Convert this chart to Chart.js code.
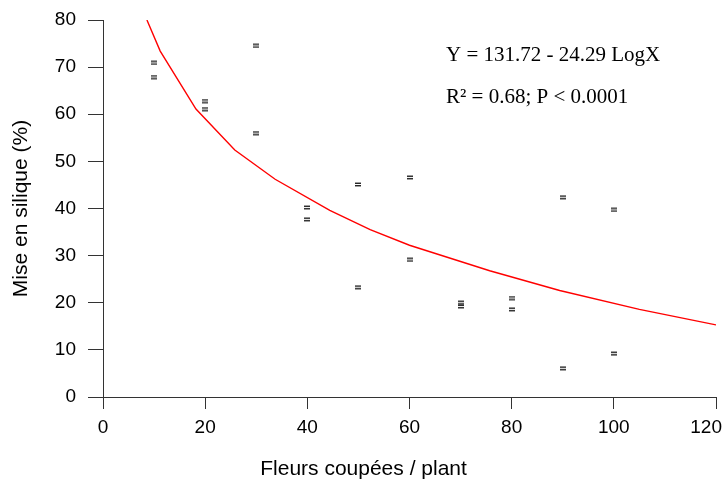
<!DOCTYPE html>
<html lang="fr">
<head>
<meta charset="utf-8">
<title>Mise en silique</title>
<script src="https://cdn.jsdelivr.net/npm/chart.js@4/dist/chart.umd.min.js"></script>
<style>
    html, body { margin: 0; padding: 0; background: #fff; }
    #wrap { width: 725px; height: 481px; }
</style>
</head>
<body>
<div id="wrap"><canvas id="silique-chart" width="725" height="481"></canvas></div>
<script>
// Observations : fleurs coupées par plant et mise en silique (%)
const fleursCoupees = [10, 10, 20, 20, 30, 30, 40, 40, 50, 50, 60, 60, 70, 70, 80, 80, 90, 90, 100, 100];
const miseEnSilique = [70.9, 67.9, 62.8, 61.1, 74.5, 56.0, 40.2, 37.7, 45.1, 23.3, 46.6, 29.1, 20.0, 19.2, 21.0, 18.6, 42.4, 6.1, 39.7, 9.2];

// Courbe ajustée (points relevés le long de la courbe)
const courbeX = [8.6, 11.2, 18.2, 25.8, 33.7, 44.4, 52.3, 60, 75.7, 89.4, 105, 120];
const courbeY = [80, 73.4, 61.1, 52.4, 46.2, 39.6, 35.5, 32.2, 26.8, 22.6, 18.6, 15.3];

const equation = 'Y = 131.72 - 24.29 LogX';
const statistiques = 'R\u00b2 = 0.68; P < 0.0001';

document.addEventListener('DOMContentLoaded', function() {
    // Petit symbole "=" pour chaque observation
    const marker = document.createElement('canvas');
    marker.width = 6;
    marker.height = 5;
    const m = marker.getContext('2d');
    m.fillStyle = '#111';
    m.fillRect(0, 0.6, 6, 1.3);
    m.fillRect(0, 3.1, 6, 1.3);

    const points = fleursCoupees.map((x, i) => ({ x: x, y: miseEnSilique[i] }));
    const courbe = courbeX.map((x, i) => ({ x: x, y: courbeY[i] }));

    const sansFont = '"Liberation Sans", Arial, sans-serif';

    // Texte de l'équation, titre de l'axe X, et dernier libellé X calé à droite
    const annotations = {
        id: 'annotations',
        beforeDraw(chart) {
            const items = chart.scales.x.getLabelItems(chart.chartArea);
            const last = items[items.length - 1];
            if (last) {
                last.options.textAlign = 'right';
                last.options.translation[0] = chart.width - 3;
            }
        },
        afterDraw(chart) {
            const c = chart.ctx;
            const area = chart.chartArea;
            c.save();
            c.fillStyle = '#000';
            c.textAlign = 'left';
            c.textBaseline = 'middle';
            c.font = '21px "Liberation Serif", "Times New Roman", serif';
            c.fillText(equation, area.left + 343, area.top + 35);
            c.fillText(statistiques, area.left + 343, area.top + 77);

            c.textAlign = 'center';
            c.textBaseline = 'alphabetic';
            c.font = '21px ' + sansFont;
            c.fillText('Fleurs coupées / plant', chart.scales.x.getPixelForValue(51), 475);
            c.restore();
        }
    };

    const axisColor = '#333';
    const tickFont = { family: sansFont, size: 19 };

    const ctx = document.getElementById('silique-chart').getContext('2d');
    new Chart(ctx, {
        type: 'scatter',
        data: {
            datasets: [{
                label: 'Observations',
                data: points,
                pointStyle: marker,
                pointRadius: 4,
                showLine: false
            }, {
                label: 'Ajustement',
                data: courbe,
                showLine: true,
                borderColor: '#ff0000',
                borderWidth: 1.4,
                pointRadius: 0,
                tension: 0,
                fill: false
            }]
        },
        options: {
            responsive: false,
            animation: false,
            layout: { padding: { top: 20, right: 9, bottom: 0, left: 0 } },
            plugins: {
                legend: { display: false },
                tooltip: { enabled: false }
            },
            scales: {
                x: {
                    type: 'linear',
                    min: 0,
                    max: 120,
                    ticks: { stepSize: 20, color: '#000', font: tickFont, padding: 7, maxRotation: 0 },
                    grid: { drawOnChartArea: false, drawTicks: true, tickLength: 12, color: axisColor },
                    border: { display: true, color: axisColor, width: 1 },
                    afterFit(scale) {
                        scale.height = 84;
                        scale.paddingLeft = 0;
                        scale.paddingRight = 0;
                    }
                },
                y: {
                    min: 0,
                    max: 80,
                    ticks: { stepSize: 10, color: '#000', font: tickFont, padding: 12 },
                    grid: { drawOnChartArea: false, drawTicks: true, tickLength: 15, color: axisColor },
                    border: { display: true, color: axisColor, width: 1 },
                    title: {
                        display: true,
                        text: 'Mise en silique (%)',
                        color: '#000',
                        font: { family: sansFont, size: 21 },
                        padding: { top: 9, bottom: 0 }
                    },
                    afterFit(scale) {
                        scale.width = 103;
                        scale.paddingTop = 0;
                        scale.paddingBottom = 0;
                    }
                }
            }
        },
        plugins: [annotations]
    });
});
</script>
</body>
</html>
